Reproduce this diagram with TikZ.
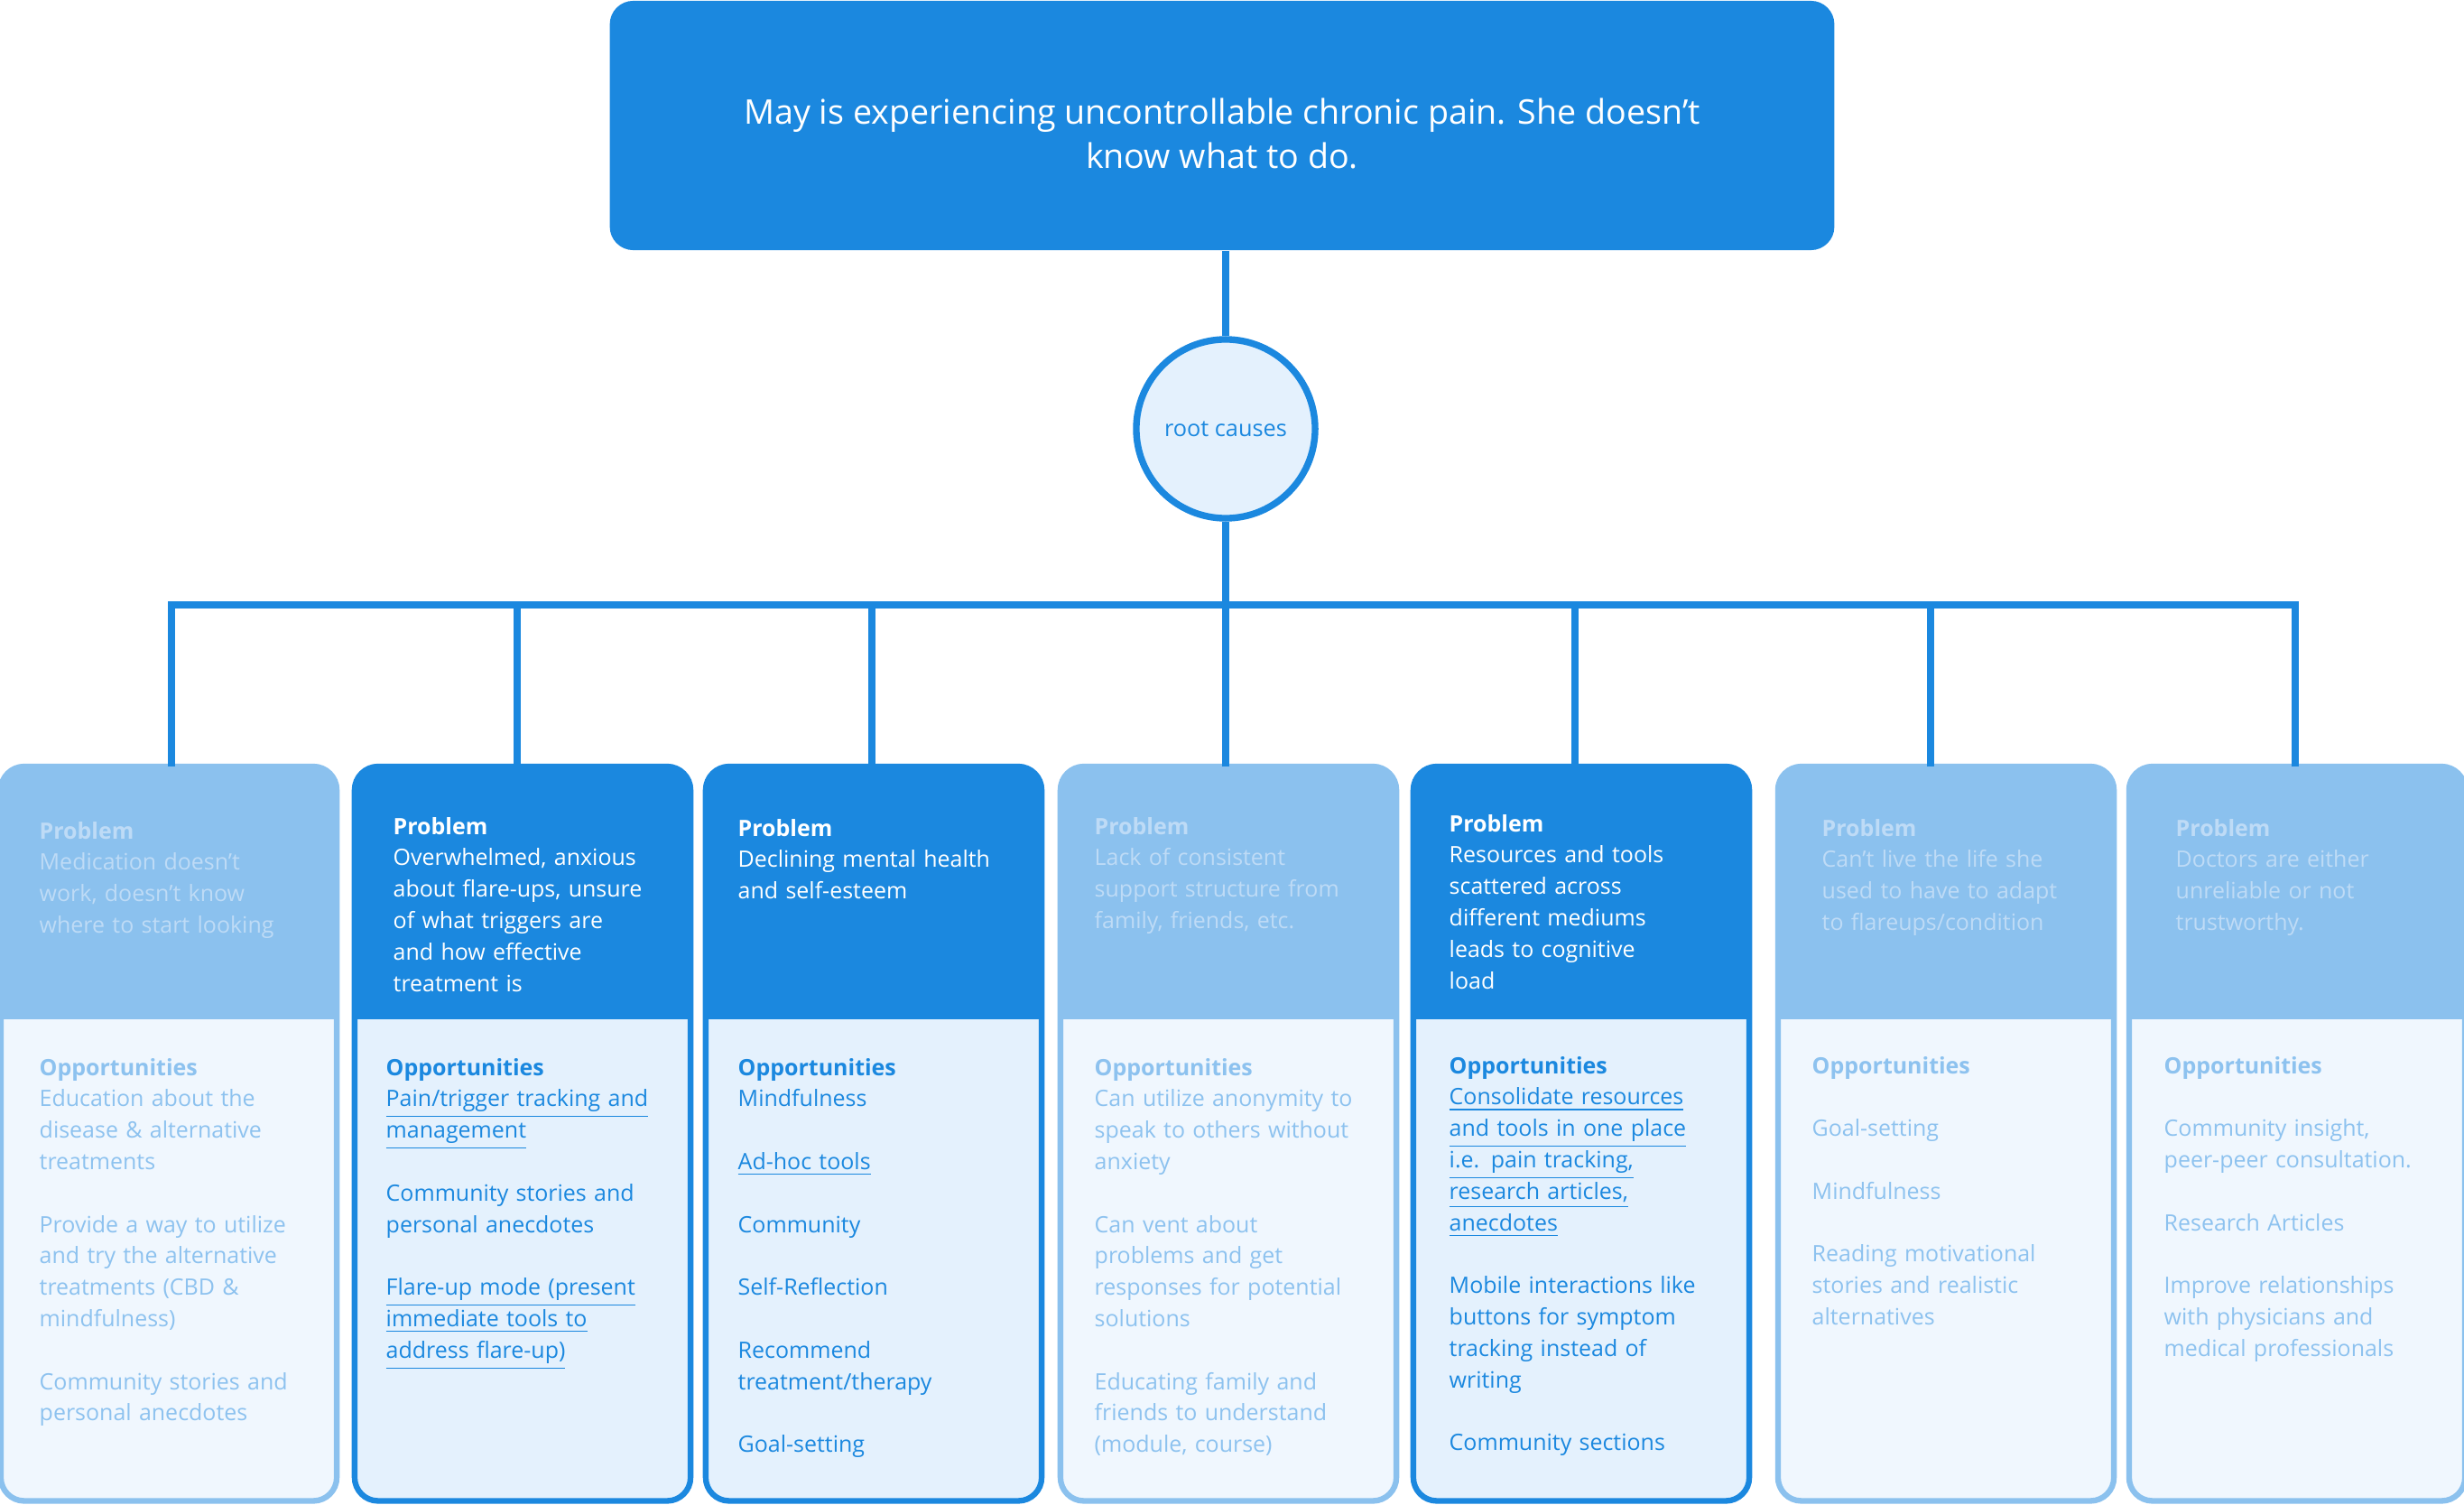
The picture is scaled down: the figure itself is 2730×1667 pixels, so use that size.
\documentclass[tikz,border=0pt]{standalone}
\usepackage{fontspec}
\setmainfont{Open Sans}
\usetikzlibrary{calc}

\definecolor{mainblue}{HTML}{1B88DF}
\definecolor{stronghead}{HTML}{1B88DF}
\definecolor{strongbody}{HTML}{E4F1FD}
\definecolor{strongline}{HTML}{1B88DF}
\definecolor{lighthead}{HTML}{8BC1EE}
\definecolor{lightbody}{HTML}{F0F7FE}
\definecolor{lightline}{HTML}{8BC1EE}
\definecolor{fadedtop}{HTML}{BEDBF6}
\definecolor{fadedtext}{HTML}{8DC2EF}

% one empty line between two items
\newcommand{\gap}{\\[9.9pt]}

\begin{document}
\begin{tikzpicture}[x=0.01cm, y=-0.01cm,
    link/.style={draw=mainblue, line width=2.3pt},
    titlebox/.style={fill=mainblue, rounded corners=0.26cm, minimum width=13.56cm,
      minimum height=2.76cm, inner sep=0},
    titletext/.style={align=center, text=white, inner sep=0,
      font=\fontsize{10.7}{14.2}\selectfont},
    rootcirc/.style={circle, draw=mainblue, fill=strongbody, line width=2.1pt,
      minimum size=1.98cm, inner sep=0, text=mainblue, font=\fontsize{7.2}{9}\selectfont},
    card/.style={rectangle, rounded corners=0.26cm, minimum width=3.72cm,
      minimum height=8.13cm, inner sep=0, outer sep=0, anchor=north},
    cardtext/.style={anchor=base west, align=left, text width=3.5cm, inner sep=0,
      font=\fontsize{7.1}{9.9}\selectfont},
    strongtop/.style={cardtext, text=white},
    strongtxt/.style={cardtext, text=mainblue},
    lighttop/.style={cardtext, text=fadedtop},
    lighttxt/.style={cardtext, text=fadedtext}]
    \useasboundingbox (0,0) rectangle (2730,1667);

    % Statement and root causes
    \node[titlebox] (pain) at (1354,139) {};
    \node[titletext] (paintext) at ($(pain.center)+(0,9)$) {May is experiencing uncontrollable chronic pain. She doesn’t\\ know what to do.};
    \node[rootcirc] (root) at (1358,475) {root causes};

    % Cards: header part, body part, frame
    \foreach \n/\cx/\kind in {1/187/light, 2/579/strong, 3/968/strong, 4/1361/light,
                              5/1752/strong, 6/2156/light, 7/2545/light}{
        \node[card, fill=\kind body] (c\n) at (\cx,849) {};
        \begin{scope}
            \clip[rounded corners=0.26cm] (c\n.north west) rectangle (c\n.south east);
            \fill[\kind head] (c\n.north west) rectangle (c\n.east |- 0,1129);
        \end{scope}
        \draw[\kind line, line width=1.8pt, rounded corners=0.26cm] (c\n.north west) rectangle (c\n.south east);
    }

    % Connectors
    \coordinate (bus) at (1358,670);
    \coordinate (d1) at ($(c1.north)+(3,0)$);
    \coordinate (d7) at ($(c7.north)+(-2,0)$);
    \draw[link] (root.north |- pain.south) -- (root.north);
    \draw[link] (root.south) -- (root.south |- c4.north);
    \draw[link] (d1) |- (bus) -| (d7);
    \foreach \n/\dx in {2/-6, 3/-2, 5/-7, 6/-17}
        \draw[link] ($(c\n.north)+(\dx,0)$) coordinate (d\n) -- (d\n |- bus);

    % Card 1
    \node[lighttop] (p1) at (43,929) {\textbf{Problem}\\ Medication doesn’t\\ work, doesn’t know\\ where to start looking};
    \node[lighttxt] (o1) at (43,1191) {\textbf{Opportunities}\\ Education about the\\ disease \& alternative\\ treatments\gap
        Provide a way to utilize\\ and try the alternative\\ treatments (CBD \&\\ mindfulness)\gap
        Community stories and\\ personal anecdotes};

    % Card 2
    \node[strongtop] (p2) at (435,924) {\textbf{Problem}\\ Overwhelmed, anxious\\ about flare-ups, unsure\\ of what triggers are\\ and how effective\\ treatment is};
    \node[strongtxt] (o2) at (427,1191) {\textbf{Opportunities}\\ \underline{Pain/trigger tracking and}\\ \underline{management}\gap
        Community stories and\\ personal anecdotes\gap
        \underline{Flare-up mode (present}\\ \underline{immediate tools to}\\ \underline{address flare-up)}};

    % Card 3
    \node[strongtop] (p3) at (817,926) {\textbf{Problem}\\ Declining mental health\\ and self-esteem};
    \node[strongtxt] (o3) at (817,1191) {\textbf{Opportunities}\\ Mindfulness\gap \underline{Ad-hoc tools}\gap Community\gap
        Self-Reflection\gap Recommend\\ treatment/therapy\gap Goal-setting};

    % Card 4
    \node[lighttop] (p4) at (1212,924) {\textbf{Problem}\\ Lack of consistent\\ support structure from\\ family, friends, etc.};
    \node[lighttxt] (o4) at (1212,1191) {\textbf{Opportunities}\\ Can utilize anonymity to\\ speak to others without\\ anxiety\gap
        Can vent about\\ problems and get\\ responses for potential\\ solutions\gap
        Educating family and\\ friends to understand\\ (module, course)};

    % Card 5
    \node[strongtop] (p5) at (1605,921) {\textbf{Problem}\\ Resources and tools\\ scattered across\\ different mediums\\ leads to cognitive\\ load};
    \node[strongtxt] (o5) at (1605,1189) {\textbf{Opportunities}\\ \underline{Consolidate resources}\\ \underline{and tools in one place}\\
        \underline{i.e. pain tracking,}\\ \underline{research articles,}\\ \underline{anecdotes}\gap
        Mobile interactions like\\ buttons for symptom\\ tracking instead of\\ writing\gap Community sections};

    % Card 6
    \node[lighttop] (p6) at (2018,926) {\textbf{Problem}\\ Can’t live the life she\\ used to have to adapt\\ to flareups/condition};
    \node[lighttxt] (o6) at (2007,1189) {\textbf{Opportunities}\gap Goal-setting\gap Mindfulness\gap
        Reading motivational\\ stories and realistic\\ alternatives};

    % Card 7
    \node[lighttop] (p7) at (2410,926) {\textbf{Problem}\\ Doctors are either\\ unreliable or not\\ trustworthy.};
    \node[lighttxt] (o7) at (2397,1189) {\textbf{Opportunities}\gap Community insight,\\ peer-peer consultation.\gap
        Research Articles\gap Improve relationships\\ with physicians and\\ medical professionals};
\end{tikzpicture}
\end{document}
